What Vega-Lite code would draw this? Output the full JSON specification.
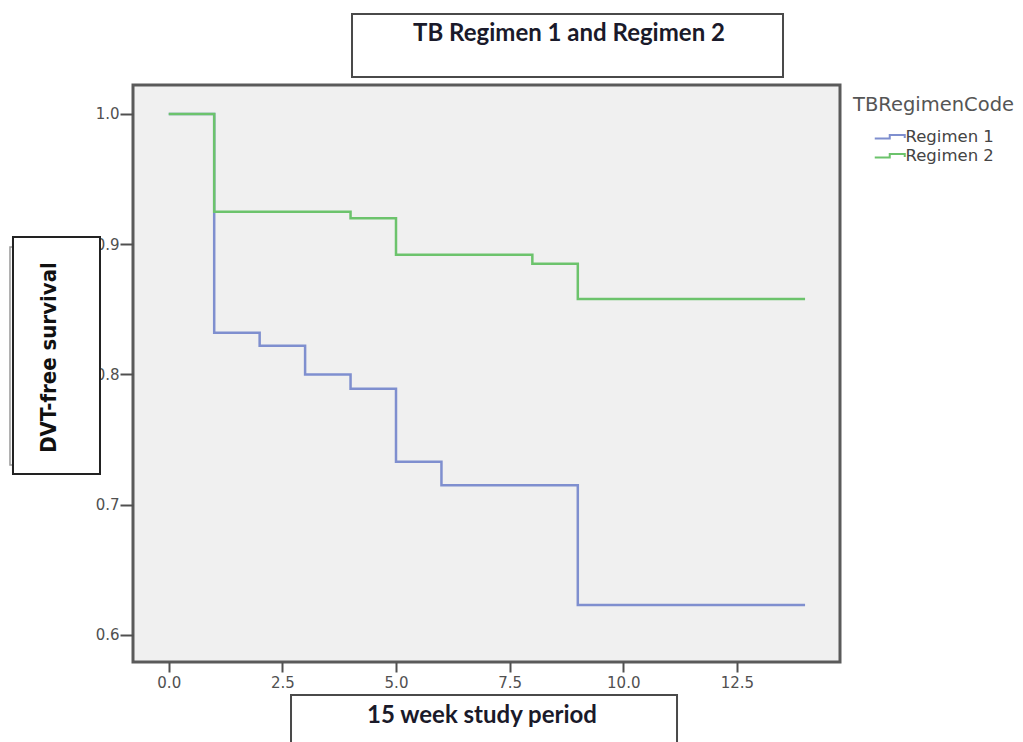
{
  "$schema": "https://vega.github.io/schema/vega-lite/v6.json",
  "autosize": {"type": "none"},
  "width": 707,
  "height": 577,
  "padding": {"left": 133, "top": 85, "right": 183, "bottom": 80},
  "background": "white",
  "config": {
    "view": {"fill": "#f0f0f0", "stroke": "#5a5a5a", "strokeWidth": 3},
    "font": "DejaVu Sans",
    "axis": {
      "domain": false,
      "grid": false,
      "labelFont": "DejaVu Sans",
      "labelFontSize": 15,
      "labelColor": "#505050",
      "tickColor": "#505050",
      "tickWidth": 2
    }
  },
  "layer": [
    {
      "data": {
        "values": [
          {"week": 0, "survival": 1.0, "TBRegimenCode": "Regimen 1"},
          {"week": 1, "survival": 0.832, "TBRegimenCode": "Regimen 1"},
          {"week": 2, "survival": 0.822, "TBRegimenCode": "Regimen 1"},
          {"week": 3, "survival": 0.800, "TBRegimenCode": "Regimen 1"},
          {"week": 4, "survival": 0.789, "TBRegimenCode": "Regimen 1"},
          {"week": 5, "survival": 0.733, "TBRegimenCode": "Regimen 1"},
          {"week": 6, "survival": 0.715, "TBRegimenCode": "Regimen 1"},
          {"week": 9, "survival": 0.623, "TBRegimenCode": "Regimen 1"},
          {"week": 14, "survival": 0.623, "TBRegimenCode": "Regimen 1"},
          {"week": 0, "survival": 1.0, "TBRegimenCode": "Regimen 2"},
          {"week": 1, "survival": 0.925, "TBRegimenCode": "Regimen 2"},
          {"week": 4, "survival": 0.920, "TBRegimenCode": "Regimen 2"},
          {"week": 5, "survival": 0.892, "TBRegimenCode": "Regimen 2"},
          {"week": 8, "survival": 0.885, "TBRegimenCode": "Regimen 2"},
          {"week": 9, "survival": 0.858, "TBRegimenCode": "Regimen 2"},
          {"week": 14, "survival": 0.858, "TBRegimenCode": "Regimen 2"}
        ]
      },
      "mark": {"type": "line", "interpolate": "step-after", "strokeWidth": 2.5, "clip": true},
      "encoding": {
        "x": {
          "field": "week", "type": "quantitative", "title": null,
          "scale": {"domain": [-0.7866, 14.769], "nice": false, "zero": false},
          "axis": {"values": [0, 2.5, 5, 7.5, 10, 12.5], "format": ".1f", "tickSize": 10, "labelPadding": 3}
        },
        "y": {
          "field": "survival", "type": "quantitative", "title": null,
          "scale": {"domain": [0.57927, 1.02226], "nice": false, "zero": false},
          "axis": {"values": [0.6, 0.7, 0.8, 0.9, 1.0], "format": ".1f", "tickSize": 13, "labelPadding": 1}
        },
        "color": {
          "field": "TBRegimenCode", "type": "nominal",
          "scale": {"domain": ["Regimen 1", "Regimen 2"], "range": ["#7f8fcf", "#6cc36c"]},
          "legend": {
            "orient": "none",
            "legendX": 720,
            "legendY": 11,
            "title": "TBRegimenCode",
            "titleFont": "DejaVu Sans",
            "titleFontSize": 19.5,
            "titleFontWeight": "normal",
            "titleColor": "#555555",
            "titlePadding": 13,
            "labelFont": "DejaVu Sans",
            "labelFontSize": 16.5,
            "labelColor": "#444444",
            "symbolType": "M-6.6,0.7H-0.6V-0.7H5.4V0.5",
            "symbolSize": 25,
            "symbolStrokeWidth": 2,
            "symbolOffset": 30,
            "labelOffset": 6,
            "rowPadding": 2
          }
        }
      }
    },
    {
      "data": {"values": [{"label": "TB Regimen 1 and Regimen 2"}]},
      "mark": {"type": "rect", "fill": "white", "stroke": "#4a4a4a", "strokeWidth": 2},
      "encoding": {
        "x": {"datum": 4.032, "type": "quantitative", "title": null},
        "x2": {"datum": 13.515},
        "y": {"datum": 1.07677, "type": "quantitative", "title": null},
        "y2": {"datum": 1.0284}
      }
    },
    {
      "data": {"values": [{"label": "TB Regimen 1 and Regimen 2"}]},
      "mark": {"type": "text", "font": "Lato", "fontWeight": "bold", "fontSize": 24, "color": "#1a1a2a", "align": "center", "baseline": "middle"},
      "encoding": {
        "x": {"datum": 8.806, "type": "quantitative", "title": null},
        "y": {"datum": 1.06142, "type": "quantitative", "title": null},
        "text": {"field": "label"}
      }
    },
    {
      "data": {"values": [{"label": "DVT-free survival"}]},
      "mark": {"type": "rect", "fill": "white", "stroke": "#999999", "strokeWidth": 1.5},
      "encoding": {
        "x": {"datum": -3.493, "type": "quantitative", "title": null},
        "x2": {"datum": -1.733},
        "y": {"datum": 0.89788, "type": "quantitative", "title": null},
        "y2": {"datum": 0.73051}
      }
    },
    {
      "data": {"values": [{"label": "DVT-free survival"}]},
      "mark": {"type": "rect", "fill": "white", "stroke": "#222222", "strokeWidth": 2},
      "encoding": {
        "x": {"datum": -3.427, "type": "quantitative", "title": null},
        "x2": {"datum": -1.5127},
        "y": {"datum": 0.90556, "type": "quantitative", "title": null},
        "y2": {"datum": 0.7236}
      }
    },
    {
      "data": {"values": [{"label": "DVT-free survival"}]},
      "mark": {"type": "text", "font": "DejaVu Sans Condensed", "fontWeight": "bold", "fontSize": 22, "color": "#111111", "align": "center", "baseline": "middle", "angle": 270},
      "encoding": {
        "x": {"datum": -2.635, "type": "quantitative", "title": null},
        "y": {"datum": 0.81305, "type": "quantitative", "title": null},
        "text": {"field": "label"}
      }
    },
    {
      "data": {"values": [{"label": "15 week study period"}]},
      "mark": {"type": "rect", "fill": "white", "stroke": "#4a4a4a", "strokeWidth": 2},
      "encoding": {
        "x": {"datum": 2.69, "type": "quantitative", "title": null},
        "x2": {"datum": 11.183},
        "y": {"datum": 0.55393, "type": "quantitative", "title": null},
        "y2": {"datum": 0.50403}
      }
    },
    {
      "data": {"values": [{"label": "15 week study period"}]},
      "mark": {"type": "text", "font": "Lato", "fontWeight": "bold", "fontSize": 24, "color": "#1a1a2a", "align": "center", "baseline": "middle"},
      "encoding": {
        "x": {"datum": 6.892, "type": "quantitative", "title": null},
        "y": {"datum": 0.53781, "type": "quantitative", "title": null},
        "text": {"field": "label"}
      }
    }
  ]
}
